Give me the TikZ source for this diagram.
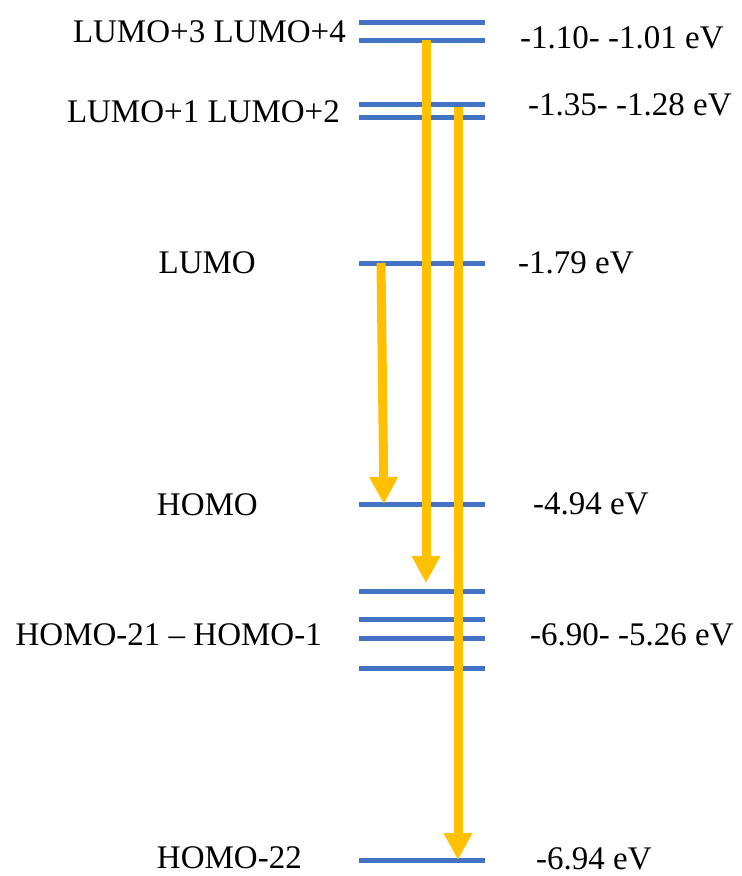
\documentclass[tikz,border=0pt]{standalone}
\usepackage{fontspec}
\setmainfont{Liberation Serif}
\usetikzlibrary{arrows.meta}
\definecolor{lvblue}{HTML}{4472C4}
\definecolor{trgold}{HTML}{FFC000}

\begin{document}
\begin{tikzpicture}[
  x=1pt, y=-1pt,
  font=\rmfamily\fontsize{33}{38}\selectfont,
  lvl/.style={draw=lvblue, line width=5pt},
  lname/.style={inner sep=0pt, anchor=east},
  lval/.style={inner sep=0pt, anchor=west},
  tr/.style={draw=trgold, line width=9pt, -{Triangle[length=27pt, width=27pt]}}
]
\useasboundingbox (0,0) rectangle (742,876);

% energy levels
\foreach \y [count=\i] in {22,40,104,117,263,504,591,619,638,668,860} {
  \coordinate (l\i w) at (359,\y);
  \coordinate (l\i e) at (485,\y);
  \draw[lvl] (l\i w) -- (l\i e);
}

% level names
\node[lname] (n1) at (346,32)  {LUMO+3 LUMO+4};
\node[lname] (n2) at (340,112) {LUMO+1 LUMO+2};
\node[lname] (n3) at (256,263) {LUMO};
\node[lname] (n4) at (258,505) {HOMO};
\node[lname] (n5) at (322,635) {HOMO-21 -- HOMO-1};
\node[lname] (n6) at (302,858) {HOMO-22};

% energies
\node[lval] (e1) at (520,38)  {-1.10- -1.01 eV};
\node[lval] (e2) at (528,105) {-1.35- -1.28 eV};
\node[lval] (e3) at (518,263) {-1.79 eV};
\node[lval] (e4) at (533,504) {-4.94 eV};
\node[lval] (e5) at (530,635) {-6.90- -5.26 eV};
\node[lval] (e6) at (536,859) {-6.94 eV};

% transitions
\coordinate (t1s) at (381,263); \coordinate (t1e) at (384,504);
\coordinate (t2s) at (426,40);  \coordinate (t2e) at (426,583);
\coordinate (t3s) at (458,107); \coordinate (t3e) at (458,860);
\draw[tr] (t1s) -- (t1e);
\draw[tr] (t2s) -- (t2e);
\draw[tr] (t3s) -- (t3e);
\end{tikzpicture}
\end{document}
